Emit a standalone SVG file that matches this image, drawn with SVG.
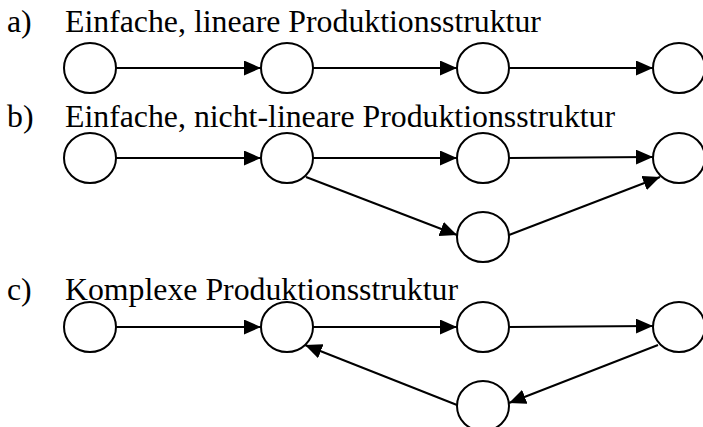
<svg xmlns="http://www.w3.org/2000/svg" width="703" height="427" viewBox="0 0 703 427">
<style>
text{font-family:"Liberation Serif","Times New Roman",serif;font-size:31.8px;fill:#000}
.n{fill:#fff;stroke:#000;stroke-width:2}
.e{stroke:#000;stroke-width:2;fill:none;marker-end:url(#ah)}
</style>
<defs>
<marker id="ah" markerUnits="userSpaceOnUse" markerWidth="17" markerHeight="15" refX="17" refY="7.5" orient="auto">
<path d="M0,0 L17,7.5 L0,15 z" fill="#000"/>
</marker>
</defs>
<rect width="703" height="427" fill="#fff"/>
<g id="labels">
<text x="7" y="32">a)</text><text x="65" y="32">Einfache, lineare Produktionsstruktur</text>
<text x="7" y="127">b)</text><text x="65" y="127">Einfache, nicht-lineare Produktionsstruktur</text>
<text x="7" y="300">c)</text><text x="65" y="300">Komplexe Produktionsstruktur</text>
</g>
<g id="connectors">
<line class="e" x1="116" y1="68" x2="261" y2="68"/>
<line class="e" x1="313" y1="68" x2="457" y2="68"/>
<line class="e" x1="509" y1="68" x2="653" y2="68"/>
<line class="e" x1="116" y1="158" x2="261" y2="158"/>
<line class="e" x1="313" y1="158" x2="457" y2="158"/>
<line class="e" x1="509" y1="158" x2="653" y2="157"/>
<line class="e" x1="306" y1="177" x2="457" y2="235"/>
<line class="e" x1="509" y1="235" x2="660" y2="177"/>
<line class="e" x1="116" y1="327" x2="261" y2="327"/>
<line class="e" x1="313" y1="327" x2="457" y2="327"/>
<line class="e" x1="509" y1="327" x2="653" y2="326"/>
<line class="e" x1="658" y1="345" x2="509" y2="403"/>
<line class="e" x1="457" y1="405" x2="305" y2="345"/>
</g>
<g id="a1"><ellipse class="n" cx="90" cy="68" rx="26" ry="25"/></g>
<g id="a2"><ellipse class="n" cx="287" cy="68" rx="26" ry="25"/></g>
<g id="a3"><ellipse class="n" cx="483" cy="68" rx="26" ry="25"/></g>
<g id="a4"><ellipse class="n" cx="679" cy="68" rx="26" ry="25"/></g>
<g id="b1"><ellipse class="n" cx="90" cy="158" rx="26" ry="25"/></g>
<g id="b2"><ellipse class="n" cx="287" cy="158" rx="26" ry="25"/></g>
<g id="b3"><ellipse class="n" cx="483" cy="158" rx="26" ry="25"/></g>
<g id="b4"><ellipse class="n" cx="679" cy="158" rx="26" ry="25"/></g>
<g id="b5"><ellipse class="n" cx="483" cy="237" rx="26" ry="25"/></g>
<g id="c1"><ellipse class="n" cx="90" cy="327" rx="26" ry="25"/></g>
<g id="c2"><ellipse class="n" cx="287" cy="327" rx="26" ry="25"/></g>
<g id="c3"><ellipse class="n" cx="483" cy="327" rx="26" ry="25"/></g>
<g id="c4"><ellipse class="n" cx="679" cy="327" rx="26" ry="25"/></g>
<g id="c5"><ellipse class="n" cx="483" cy="406" rx="26" ry="25"/></g>
</svg>
